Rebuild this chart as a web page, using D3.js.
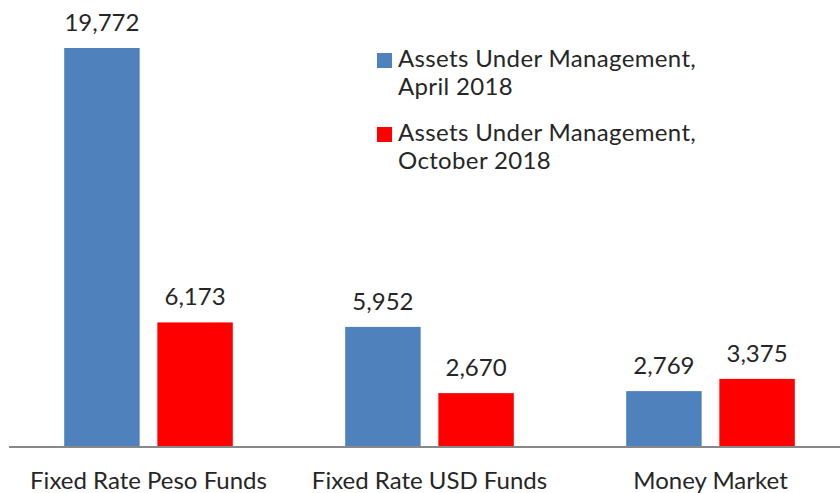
<!DOCTYPE html>
<html>
<head>
<meta charset="utf-8">
<script src="https://cdn.jsdelivr.net/npm/d3@7"></script>
<style>
  html, body { margin: 0; padding: 0; background: #fff; }
  svg { display: block; font-family: Lato, "Open Sans", sans-serif; }
</style>
</head>
<body>
<svg id="chart" width="840" height="493"></svg>
<script>
const categories = ["Fixed Rate Peso Funds", "Fixed Rate USD Funds", "Money Market"];
const seriesNames = ["Assets Under Management, April 2018", "Assets Under Management, October 2018"];
const legendLines = [["Assets Under Management,", "April 2018"], ["Assets Under Management,", "October 2018"]];
const april2018 = [19772, 5952, 2769];
const october2018 = [6173, 2670, 3375];
const colors = ["#4F81BD", "#FF0000"];

const seriesValues = [april2018, october2018];
const rows = categories.map((c, i) => ({ category: c, values: seriesNames.map((s, j) => ({ series: s, idx: j, value: seriesValues[j][i] })) }));

const svg = d3.select("#chart");
const baseY = 447;
const fmt = d3.format(",");

const x0 = d3.scaleBand().domain(categories).range([8, 851]).paddingInner(0.4).paddingOuter(0.2);
const x1 = d3.scaleBand().domain(seriesNames).range([0, x0.bandwidth()]).paddingInner(0.19);
const y = d3.scaleLinear().domain([0, d3.max(april2018.concat(october2018))]).range([baseY, 48]);
const color = d3.scaleOrdinal().domain(seriesNames).range(colors);

const groups = svg.selectAll("g.group").data(rows).join("g")
  .attr("class", "group")
  .attr("transform", d => `translate(${x0(d.category)},0)`);

groups.selectAll("rect").data(d => d.values).join("rect")
  .attr("x", d => x1(d.series))
  .attr("width", x1.bandwidth())
  .attr("y", d => y(d.value))
  .attr("height", d => baseY - y(d.value))
  .attr("fill", d => color(d.series));

groups.selectAll("text.val").data(d => d.values).join("text")
  .attr("class", "val")
  .attr("x", d => x1(d.series) + x1.bandwidth() / 2)
  .attr("y", d => y(d.value) - 17)
  .attr("text-anchor", "middle")
  .attr("font-size", 24)
  .attr("fill", "#262626")
  .text(d => fmt(d.value));

// axis
const axis = svg.append("g").attr("transform", `translate(0,${baseY})`)
  .call(d3.axisBottom(x0).tickSize(0).tickPadding(0));
axis.select(".domain").attr("stroke", "#888").attr("stroke-width", 2).attr("d", "M9,0H840");
axis.selectAll(".tick text")
  .attr("y", 42).attr("dy", 0)
  .attr("font-size", 24)
  .attr("font-family", "Lato, 'Open Sans', sans-serif")
  .attr("fill", "#262626");

// legend
const legend = svg.append("g");
const lg = legend.selectAll("g").data(seriesNames).join("g")
  .attr("transform", (d, i) => `translate(377,${53 + i * 74})`);
lg.append("rect").attr("width", 15).attr("height", 15).attr("fill", d => color(d));
lg.append("text")
  .attr("x", 21).attr("y", 14)
  .attr("font-size", 24)
  .attr("letter-spacing", 0.35)
  .attr("fill", "#262626")
  .selectAll("tspan").data((d, i) => legendLines[i]).join("tspan")
  .attr("x", 21)
  .attr("dy", (d, i) => i === 0 ? 0 : 28)
  .text(d => d);
</script>
</body>
</html>
